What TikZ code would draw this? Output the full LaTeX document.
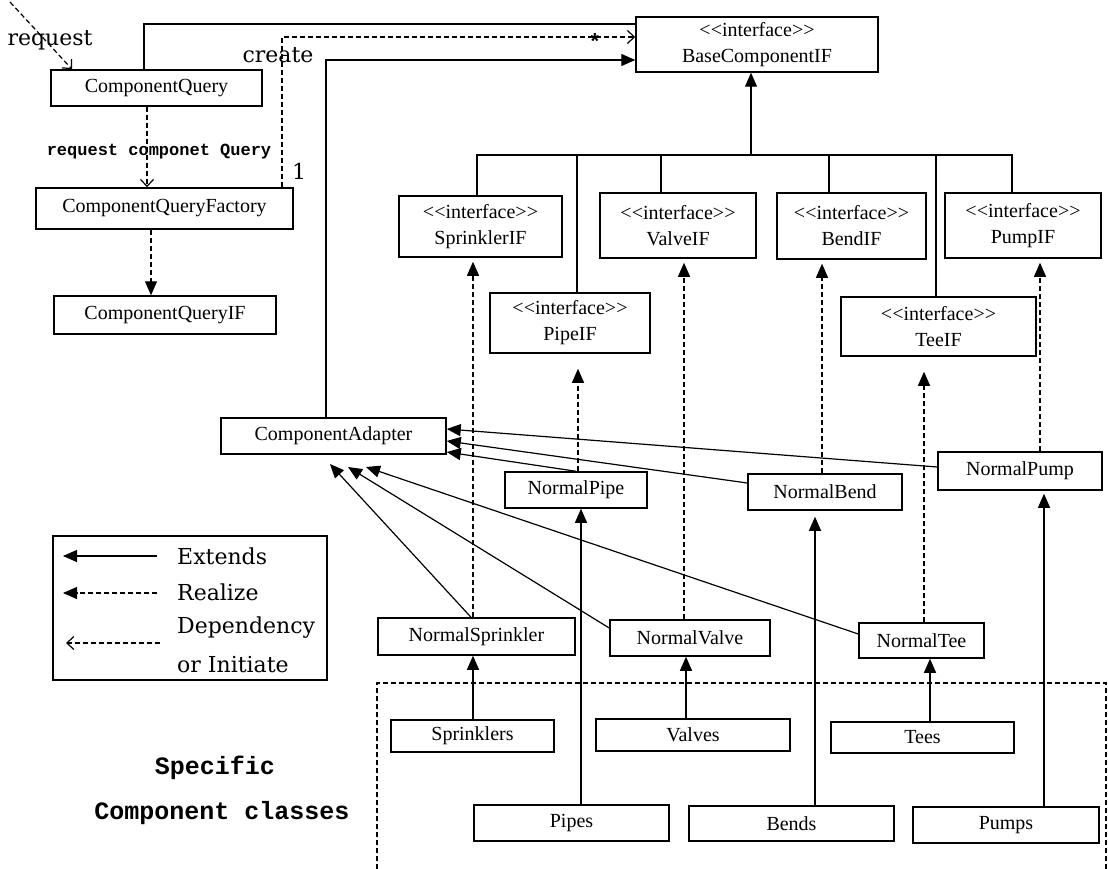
\documentclass[tikz,border=0pt]{standalone}
\usepackage{fontspec}
\setmainfont{Liberation Serif}
\newfontfamily\dvserif{DejaVu Serif}
\newfontfamily\lmono{Liberation Mono}
\usetikzlibrary{arrows.meta}
\newcommand\bxf{\fontsize{20}{26}\selectfont}
\newcommand\lblf{\dvserif\fontsize{22}{26}\selectfont}
\newcommand\bxnode[6]{\node[box, minimum width=#4pt, minimum height=#5pt] (#1) at (#2,#3) {#6};}
\newcommand\iface{<{}<interface>{}>}
\begin{document}
\begin{tikzpicture}[x=1pt,y=-1pt,
  box/.style={draw, line width=1.5pt, align=center, font=\bxf, inner sep=0pt},
  ln/.style={line width=1.2pt},
  ext/.style={line width=1.2pt, -{Triangle[length=14pt,width=12pt]}},
  real/.style={ext, dash pattern=on 5pt off 3pt},
  dep/.style={line width=1.2pt, dash pattern=on 5pt off 3pt, -{Straight Barb[length=7pt,width=13pt,line width=1.2pt]}},
  lbl/.style={font=\lblf, inner sep=0pt},
  mono/.style={font=\lmono\bfseries\fontsize{17}{20}\selectfont, inner sep=0pt},
  big/.style={font=\lmono\bfseries\fontsize{25}{28}\selectfont, inner sep=0pt},
  region/.style={line width=1.2pt, dash pattern=on 5pt off 3pt}
]
\fill[white] (0,0) rectangle (1108,869);
\useasboundingbox (0,0) rectangle (1108,869);

% helper coordinates
\foreach \xx in {72,144,147,151,282,326,330,473,471,476,477,576,577,578,581,661,684,686,751,815,822,829,924,930,936,1012,1040,1044}
  {\coordinate (x\xx) at (\xx,0);}
\foreach \yy in {24,37,60,429,441,452,467,483,628,634}
  {\coordinate (y\yy) at (0,\yy);}
\coordinate (bus) at (0,155);

% left column
\bxnode{CQ}{156.5}{88}{211}{36}{ComponentQuery}
\bxnode{CQF}{164.5}{208.5}{257}{41}{ComponentQueryFactory}
\bxnode{CQIF}{165}{315}{222}{38}{ComponentQueryIF}
\bxnode{CA}{333.5}{436}{225}{36}{ComponentAdapter}

% interfaces
\bxnode{Base}{757}{44.5}{242}{55}{\iface\\BaseComponentIF}
\bxnode{SprIF}{480.5}{226.5}{163}{61}{\iface\\SprinklerIF}
\bxnode{ValIF}{678}{225.5}{156}{65}{\iface\\ValveIF}
\bxnode{BendIF}{851.5}{226}{149}{66}{\iface\\BendIF}
\bxnode{PumpIF}{1023}{225.5}{156}{65}{\iface\\PumpIF}
\bxnode{PipeIF}{570}{323}{160}{60}{\iface\\PipeIF}
\bxnode{TeeIF}{938.5}{326.5}{195}{59}{\iface\\TeeIF}

% normal classes
\bxnode{NPipe}{576}{490}{142}{36}{NormalPipe}
\bxnode{NBend}{825}{492}{154}{36}{NormalBend}
\bxnode{NPump}{1020}{471}{164}{38}{NormalPump}
\bxnode{NSpr}{476.5}{636.5}{197}{37}{NormalSprinkler}
\bxnode{NVal}{690}{638}{160}{36}{NormalValve}
\bxnode{NTee}{921.5}{640.5}{125}{35}{NormalTee}

% specific classes
\bxnode{Sprs}{472.5}{736}{163}{32}{Sprinklers}
\bxnode{Vals}{693}{735}{194}{32}{Valves}
\bxnode{Tees}{922.5}{737.5}{183}{31}{Tees}
\bxnode{Pipes}{571.5}{823}{195}{36}{Pipes}
\bxnode{Bends}{791.5}{823.5}{205}{35}{Bends}
\bxnode{Pumps}{1006}{825}{186}{36}{Pumps}

% labels
\node[lbl] (tReq) at (50,40) {request};
\node[lbl] (tCreate) at (278,55) {create};
\node[lbl] (tOne) at (299,171) {1};
\node[font=\lmono\bfseries\fontsize{22}{22}\selectfont, inner sep=0pt] (tStar) at (595,42) {*};
\node[mono] (tRCQ) at (159,152) {request componet Query};
\node[big] (tSpec) at (215,768) {Specific};
\node[big] (tComp) at (222,813) {Component classes};

% top-left connectors
\coordinate (r0) at (10,2);
\draw[dep] (r0) -- (CQ.north -| x72);
\draw[dep] (CQ.south -| x147) -- (CQF.north -| x147);
\draw[real] (CQF.south -| x151) -- (CQIF.north -| x151);
\draw[ln] (CQ.north -| x144) |- (Base.west |- y24);
\draw[dep] (CQF.north -| x282) |- (Base.west |- y37);
\draw[ext] (CA.north -| x326) |- (Base.west |- y60);

% interface hierarchy
\draw[ln] (SprIF.north -| x477) -- (bus -| x477) -- (bus -| x1012) -- (PumpIF.north -| x1012);
\draw[ln] (PipeIF.north -| x577) -- (bus -| x577);
\draw[ln] (ValIF.north -| x661) -- (bus -| x661);
\draw[ln] (BendIF.north -| x829) -- (bus -| x829);
\draw[ln] (TeeIF.north -| x936) -- (bus -| x936);
\draw[ext] (bus -| x751) -- (Base.south -| x751);

% realize
\draw[real, shorten >=4pt] (NSpr.north -| x473) -- (SprIF.south -| x473);
\draw[real, shorten >=4pt] (NVal.north -| x684) -- (ValIF.south -| x684);
\draw[real, shorten >=4pt] (NBend.north -| x822) -- (BendIF.south -| x822);
\draw[real, shorten >=4pt] (NPump.north -| x1040) -- (PumpIF.south -| x1040);
\draw[real, shorten >=15pt] (NPipe.north -| x578) -- (PipeIF.south -| x578);
\draw[real, shorten >=15pt] (NTee.north -| x924) -- (TeeIF.south -| x924);

% extends to ComponentAdapter
\coordinate (cb1) at (330,464);
\coordinate (cb2) at (348,467);
\coordinate (cb3) at (366,467);
\draw[ext] (NPump.west |- y467) -- (CA.east |- y429);
\draw[ext] (NBend.west |- y483) -- (CA.east |- y441);
\draw[ext] (NPipe.north -| x576) -- (CA.east |- y452);
\draw[ext] (NSpr.north -| x471) -- (cb1);
\draw[ext] (NVal.west |- y628) -- (cb2);
\draw[ext] (NTee.west |- y634) -- (cb3);

% specific -> normal
\draw[ext] (Sprs.north -| x473) -- (NSpr.south -| x473);
\draw[ext] (Vals.north -| x686) -- (NVal.south -| x686);
\draw[ext] (Tees.north -| x930) -- (NTee.south -| x930);
\draw[ext] (Pipes.north -| x581) -- (NPipe.south -| x581);
\draw[ext, shorten >=6pt] (Bends.north -| x815) -- (NBend.south -| x815);
\draw[ext, shorten >=3pt] (Pumps.north -| x1044) -- (NPump.south -| x1044);

% specific region
\draw[region] (377,869) -- (377,683) -- (1106,683) -- (1106,869);

% legend
\node[draw, line width=1.5pt, minimum width=274pt, minimum height=144pt, inner sep=0pt] (leg) at (190,608) {};
\coordinate (l1a) at (157,556); \coordinate (l1b) at (63,556);
\coordinate (l2a) at (157,593); \coordinate (l2b) at (63,593);
\coordinate (l3a) at (160,643); \coordinate (l3b) at (66,643);
\draw[ext] (l1a) -- (l1b);
\draw[real] (l2a) -- (l2b);
\draw[dep] (l3a) -- (l3b);
\node[lbl, anchor=west] (tExt) at (177,556) {Extends};
\node[lbl, anchor=west] (tReal) at (177,592) {Realize};
\node[lbl, anchor=west] (tDep) at (177,628) {Dependency};
\node[lbl, anchor=west] (tInit) at (177,665) {or Initiate};
\end{tikzpicture}
\end{document}
